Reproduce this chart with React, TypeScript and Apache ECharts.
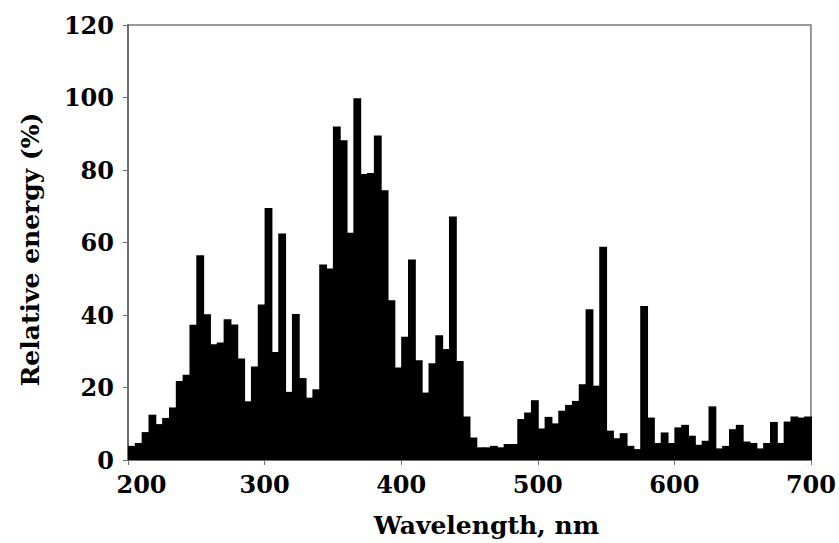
import React, { useEffect, useRef } from "react";
import * as echarts from "echarts";

const binWidth = 5;
const binStarts = [
  200, 205, 210, 215, 220, 225, 230, 235, 240, 245,
  250, 255, 260, 265, 270, 275, 280, 285, 290, 295,
  300, 305, 310, 315, 320, 325, 330, 335, 340, 345,
  350, 355, 360, 365, 370, 375, 380, 385, 390, 395,
  400, 405, 410, 415, 420, 425, 430, 435, 440, 445,
  450, 455, 460, 465, 470, 475, 480, 485, 490, 495,
  500, 505, 510, 515, 520, 525, 530, 535, 540, 545,
  550, 555, 560, 565, 570, 575, 580, 585, 590, 595,
  600, 605, 610, 615, 620, 625, 630, 635, 640, 645,
  650, 655, 660, 665, 670, 675, 680, 685, 690, 695,
];
const energy = [
  3.9, 4.7, 7.7, 12.5, 9.9, 11.6, 14.5, 21.8, 23.5, 37.3,
  56.5, 40.2, 31.9, 32.4, 38.8, 37.4, 28.0, 16.2, 25.8, 42.9,
  69.5, 29.8, 62.5, 18.8, 40.3, 22.6, 17.2, 19.5, 53.9, 52.8,
  92.0, 88.2, 62.7, 99.8, 78.9, 79.2, 89.5, 74.4, 44.1, 25.5,
  34.0, 55.3, 27.5, 18.6, 26.7, 34.4, 30.6, 67.2, 27.3, 12.0,
  6.2, 3.5, 3.5, 3.9, 3.5, 4.4, 4.4, 11.3, 13.1, 16.5,
  8.7, 11.9, 10.1, 13.6, 15.2, 16.3, 20.9, 41.6, 20.5, 58.8,
  8.1, 6.0, 7.4, 3.9, 3.0, 42.5, 11.7, 4.7, 7.6, 4.7,
  9.0, 9.7, 6.7, 4.2, 5.3, 14.8, 3.2, 3.9, 8.5, 9.7,
  5.1, 4.7, 3.2, 4.7, 10.5, 4.7, 10.6, 12.0, 11.7, 12.0,
];
const xTicks = [200, 300, 400, 500, 600, 700];
const yTicks = [0, 20, 40, 60, 80, 100, 120];

const FONT = "DejaVu Serif";

export default function App() {
  const ref = useRef<HTMLDivElement>(null);
  useEffect(() => {
    document.body.style.margin = "0";
    document.body.style.overflow = "hidden";
    const chart = echarts.init(ref.current!, null, { renderer: "svg" });
    const data = binStarts.map((s, i) => [s, s + binWidth, energy[i]]);
    chart.setOption({
      animation: false,
      backgroundColor: "#ffffff",
      grid: {
        left: 128,
        right: 28,
        top: 25,
        bottom: 82,
        show: true,
        borderColor: "#7a7a7a",
        borderWidth: 1.5,
      },
      xAxis: {
        type: "value",
        min: xTicks[0],
        max: xTicks[xTicks.length - 1],
        interval: 100,
        name: "Wavelength, nm",
        nameLocation: "middle",
        nameGap: 53,
        nameTextStyle: {
          fontFamily: FONT,
          fontWeight: "bold",
          fontSize: 25,
          color: "#000",
          padding: [0, 0, 0, 34],
        },
        axisLine: { lineStyle: { color: "#6e6e6e", width: 2 } },
        axisTick: { show: true, length: 5, lineStyle: { color: "#6e6e6e" } },
        splitLine: { show: false },
        axisLabel: {
          margin: 12,
          fontFamily: FONT,
          fontWeight: "bold",
          fontSize: 24,
          color: "#000",
          formatter: (v: number) => (v === xTicks[0] ? `{first|${v}}` : `${v}`),
          rich: {
            first: {
              fontFamily: FONT,
              fontWeight: "bold",
              fontSize: 24,
              color: "#000",
              padding: [0, 0, 0, 27],
            },
          },
        },
      },
      yAxis: {
        type: "value",
        min: yTicks[0],
        max: yTicks[yTicks.length - 1],
        interval: 20,
        name: "Relative energy (%)",
        nameLocation: "middle",
        nameGap: 85,
        nameTextStyle: {
          fontFamily: FONT,
          fontWeight: "bold",
          fontSize: 25,
          color: "#000",
          padding: [0, 14, 0, 0],
        },
        axisLine: { show: true, lineStyle: { color: "#6e6e6e", width: 2 } },
        axisTick: { show: true, length: 5, lineStyle: { color: "#6e6e6e" } },
        splitLine: { show: false },
        axisLabel: {
          margin: 14,
          fontFamily: FONT,
          fontWeight: "bold",
          fontSize: 24,
          color: "#000",
        },
      },
      series: [
        {
          type: "custom",
          data,
          encode: { x: [0, 1], y: 2 },
          renderItem: (params: any, api: any) => {
            const tl = api.coord([api.value(0), api.value(2)]);
            const br = api.coord([api.value(1), 0]);
            return {
              type: "rect",
              shape: {
                x: tl[0],
                y: tl[1],
                width: br[0] - tl[0] + 1,
                height: br[1] - tl[1],
              },
              style: { fill: "#000000" },
            };
          },
        },
      ],
    });
    return () => chart.dispose();
  }, []);
  return <div ref={ref} style={{ width: 839, height: 543 }} />;
}
